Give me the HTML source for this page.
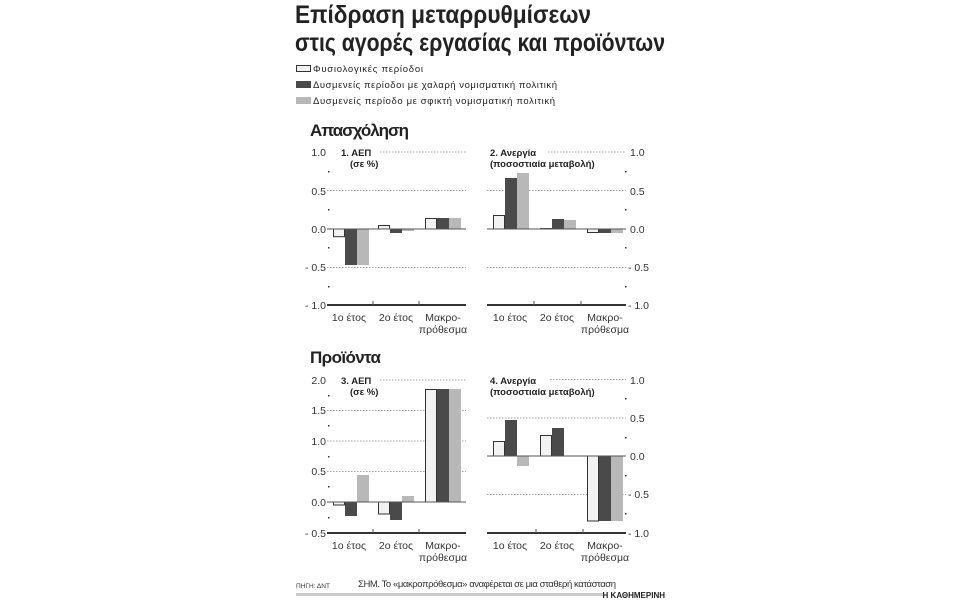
<!DOCTYPE html>
<html><head><meta charset="utf-8"><style>
html,body{margin:0;padding:0;background:#fff;}
svg{display:block;font-family:"Liberation Sans",sans-serif;}
.t{font-size:9.5px;fill:#222;}
.tk{font-size:10.5px;fill:#333;}
.b{font-weight:bold;}
.g{stroke:#888;stroke-width:0.8;stroke-dasharray:1.5,1.5;}
.ax{stroke:#333;stroke-width:2;}
.z{stroke:#555;stroke-width:1;}
.w{fill:#f2f2f2;stroke:#333;stroke-width:1;}
.d{fill:#4a4a4a;}
.l{fill:#b8b8b8;}
.m{fill:#333;}
</style></head><body>
<svg width="960" height="600" viewBox="0 0 960 600">
<text x="295" y="23" font-size="25" font-weight="bold" fill="#222" textLength="296" lengthAdjust="spacingAndGlyphs">Επίδραση μεταρρυθμίσεων</text>
<text x="295" y="51" font-size="25" font-weight="bold" fill="#222" textLength="370" lengthAdjust="spacingAndGlyphs">στις αγορές εργασίας και προϊόντων</text>
<rect x="296.5" y="65.5" width="14" height="6" class="w"/>
<text x="313" y="72" class="t" font-size="10.5" textLength="110">Φυσιολογικές περίοδοι</text>
<rect x="296" y="81" width="15" height="7" class="d"/>
<text x="313" y="88" class="t" font-size="10.5" textLength="244">Δυσμενείς περίοδοι με χαλαρή νομισματική πολιτική</text>
<rect x="296" y="97" width="15" height="7" class="l"/>
<text x="313" y="104" class="t" font-size="10.5" textLength="242">Δυσμενείς περίοδο με σφικτή νομισματική πολιτική</text>
<text x="310" y="136" font-size="17" font-weight="bold" fill="#222" textLength="99">Απασχόληση</text>
<text x="310" y="363" font-size="17" font-weight="bold" fill="#222" textLength="71">Προϊόντα</text>

<!-- Panel 1 -->
<line x1="380" y1="152" x2="466" y2="152" class="g"/>
<line x1="327" y1="190.5" x2="466" y2="190.5" class="g"/>
<line x1="327" y1="267.5" x2="466" y2="267.5" class="g"/>
<text x="341" y="156" class="t b">1. ΑΕΠ</text>
<text x="350" y="167" class="t b">(σε %)</text>
<g class="tk" text-anchor="end"><text x="326" y="156">1.0</text><text x="326" y="195">0.5</text><text x="326" y="233">0.0</text><text x="326" y="271">- 0.5</text><text x="326" y="309">- 1.0</text></g>
<g class="m"><rect x="328" y="171" width="1.5" height="1.5"/><rect x="328" y="209" width="1.5" height="1.5"/><rect x="328" y="247" width="1.5" height="1.5"/><rect x="328" y="286" width="1.5" height="1.5"/></g>
<rect x="333.5" y="229" width="11" height="7.7" class="w"/><rect x="345" y="229" width="12" height="36" class="d"/><rect x="357" y="229" width="12" height="36" class="l"/>
<rect x="378.5" y="225.5" width="11" height="3.5" class="w"/><rect x="390" y="229" width="12" height="4" class="d"/><rect x="402" y="229" width="12" height="2" class="l"/>
<rect x="425.5" y="218.5" width="11" height="10.5" class="w"/><rect x="437" y="218" width="12" height="11" class="d"/><rect x="449" y="218" width="12" height="11" class="l"/>
<line x1="327" y1="229" x2="466" y2="229" class="z"/>
<line x1="327" y1="305" x2="466" y2="305" class="ax"/>
<line x1="373" y1="301" x2="373" y2="305" class="z"/><line x1="419" y1="301" x2="419" y2="305" class="z"/>
<g class="tk" text-anchor="middle"><text x="349" y="321">1ο έτος</text><text x="396" y="321">2ο έτος</text><text x="443" y="321">Μακρο-</text><text x="443" y="333">πρόθεσμα</text></g>

<!-- Panel 2 -->
<line x1="548" y1="152" x2="626" y2="152" class="g"/>
<line x1="487" y1="190.5" x2="626" y2="190.5" class="g"/>
<line x1="487" y1="267.5" x2="626" y2="267.5" class="g"/>
<text x="490" y="156" class="t b">2. Ανεργία</text>
<text x="490" y="167" class="t b">(ποσοστιαία μεταβολή)</text>
<g class="tk"><text x="630" y="156">1.0</text><text x="630" y="195">0.5</text><text x="630" y="233">0.0</text><text x="628" y="271">- 0.5</text><text x="628" y="309">- 1.0</text></g>
<g class="m"><rect x="625" y="171" width="1.5" height="1.5"/><rect x="625" y="209" width="1.5" height="1.5"/><rect x="625" y="247" width="1.5" height="1.5"/><rect x="625" y="286" width="1.5" height="1.5"/></g>
<rect x="493.5" y="215.5" width="11" height="13.5" class="w"/><rect x="505" y="178" width="12" height="51" class="d"/><rect x="517" y="173" width="12" height="56" class="l"/>
<rect x="540" y="228" width="12" height="1" class="d"/><rect x="552" y="219" width="12" height="10" class="d"/><rect x="564" y="220" width="12" height="9" class="l"/>
<rect x="587.5" y="229" width="11" height="3.5" class="w"/><rect x="599" y="229" width="12" height="4" class="d"/><rect x="611" y="229" width="12" height="4" class="l"/>
<line x1="487" y1="229" x2="626" y2="229" class="z"/>
<line x1="487" y1="305" x2="626" y2="305" class="ax"/>
<line x1="534" y1="301" x2="534" y2="305" class="z"/><line x1="581" y1="301" x2="581" y2="305" class="z"/>
<g class="tk" text-anchor="middle"><text x="510" y="321">1ο έτος</text><text x="557" y="321">2ο έτος</text><text x="605" y="321">Μακρο-</text><text x="605" y="333">πρόθεσμα</text></g>

<!-- Panel 3 -->
<line x1="380" y1="380" x2="466" y2="380" class="g"/>
<line x1="327" y1="410.5" x2="466" y2="410.5" class="g"/>
<line x1="327" y1="441" x2="466" y2="441" class="g"/>
<line x1="327" y1="471.5" x2="466" y2="471.5" class="g"/>
<text x="341" y="384" class="t b">3. ΑΕΠ</text>
<text x="350" y="395" class="t b">(σε %)</text>
<g class="tk" text-anchor="end"><text x="326" y="384">2.0</text><text x="326" y="414">1.5</text><text x="326" y="445">1.0</text><text x="326" y="475">0.5</text><text x="326" y="506">0.0</text><text x="326" y="537">- 0.5</text></g>
<g class="m"><rect x="328" y="395" width="1.5" height="1.5"/><rect x="328" y="425" width="1.5" height="1.5"/><rect x="328" y="456" width="1.5" height="1.5"/><rect x="328" y="486" width="1.5" height="1.5"/><rect x="328" y="517" width="1.5" height="1.5"/></g>
<rect x="333.5" y="502" width="11" height="3" class="w"/><rect x="345" y="502" width="12" height="14" class="d"/><rect x="357" y="475" width="12" height="27" class="l"/>
<rect x="378.5" y="502" width="11" height="12" class="w"/><rect x="390" y="502" width="12" height="18" class="d"/><rect x="402" y="496" width="12" height="6" class="l"/>
<rect x="425.5" y="389.5" width="11" height="112.5" class="w"/><rect x="437" y="389" width="12" height="113" class="d"/><rect x="449" y="389" width="12" height="113" class="l"/>
<line x1="327" y1="502" x2="466" y2="502" class="z"/>
<line x1="327" y1="533" x2="466" y2="533" class="ax"/>
<line x1="373" y1="529" x2="373" y2="533" class="z"/><line x1="419" y1="529" x2="419" y2="533" class="z"/>
<g class="tk" text-anchor="middle"><text x="349" y="549">1ο έτος</text><text x="396" y="549">2ο έτος</text><text x="443" y="549">Μακρο-</text><text x="443" y="561">πρόθεσμα</text></g>

<!-- Panel 4 -->
<line x1="550" y1="379.5" x2="626" y2="379.5" class="g"/>
<line x1="487" y1="418" x2="626" y2="418" class="g"/>
<line x1="487" y1="494.5" x2="626" y2="494.5" class="g"/>
<text x="490" y="384" class="t b">4. Ανεργία</text>
<text x="490" y="395" class="t b">(ποσοστιαία μεταβολή)</text>
<g class="tk"><text x="630" y="384">1.0</text><text x="630" y="422">0.5</text><text x="630" y="460">0.0</text><text x="628" y="498">- 0.5</text><text x="628" y="537">- 1.0</text></g>
<g class="m"><rect x="625" y="398" width="1.5" height="1.5"/><rect x="625" y="437" width="1.5" height="1.5"/><rect x="625" y="475" width="1.5" height="1.5"/><rect x="625" y="513" width="1.5" height="1.5"/></g>
<rect x="493.5" y="441.5" width="11" height="14.5" class="w"/><rect x="505" y="420" width="12" height="36" class="d"/><rect x="517" y="456" width="12" height="10" class="l"/>
<rect x="540.5" y="435.5" width="11" height="20.5" class="w"/><rect x="552" y="428" width="12" height="28" class="d"/>
<rect x="587.5" y="456" width="11" height="65" class="w"/><rect x="599" y="456" width="12" height="65" class="d"/><rect x="611" y="456" width="12" height="65" class="l"/>
<line x1="487" y1="456" x2="626" y2="456" class="z"/>
<line x1="487" y1="533" x2="626" y2="533" class="ax"/>
<line x1="536" y1="529" x2="536" y2="533" class="z"/><line x1="583" y1="529" x2="583" y2="533" class="z"/>
<g class="tk" text-anchor="middle"><text x="510" y="549">1ο έτος</text><text x="557" y="549">2ο έτος</text><text x="605" y="549">Μακρο-</text><text x="605" y="561">πρόθεσμα</text></g>

<text x="296" y="588" font-size="6.5" fill="#333">ΠΗΓΗ: ΔΝΤ</text>
<text x="358" y="587" font-size="9.5" fill="#333" textLength="258">ΣΗΜ. Το «μακροπρόθεσμα» αναφέρεται σε μια σταθερή κατάσταση</text>
<rect x="296" y="593" width="308" height="3" fill="#ccc"/>
<text x="665" y="598" font-size="8" font-weight="bold" fill="#222" text-anchor="end">Η ΚΑΘΗΜΕΡΙΝΗ</text>
</svg>
</body></html>
